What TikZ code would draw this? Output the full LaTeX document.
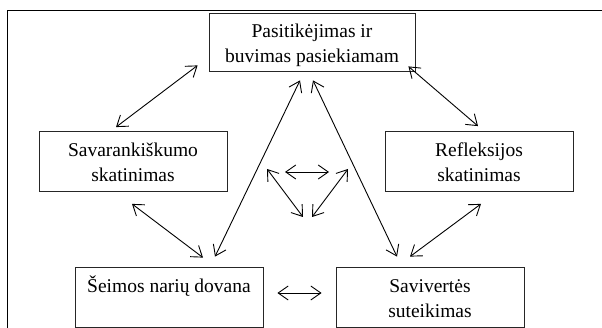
\documentclass[tikz,border=0pt]{standalone}
\usepackage{fontspec}
\setmainfont{Liberation Serif}
\usetikzlibrary{arrows.meta}

\newcommand\tstrut{\rule[-4pt]{0pt}{24pt}}

\tikzset{
  box/.style={draw=black!85, line width=0.8pt, minimum width=188pt, minimum height=60pt,
    inner sep=0pt, align=center, font=\fontsize{19.5}{25}\selectfont},
  link/.style={{Straight Barb[length=10pt,width=14pt]}-{Straight Barb[length=10pt,width=14pt]},
    line width=0.9pt},
}

\begin{document}
\begin{tikzpicture}[x=1pt,y=-1pt]
\useasboundingbox (0,0) rectangle (602,328);

\def\ytop{42}; % top row
\def\ymid{161.5}; % middle row
\def\ybot{297}; % bottom row

% frame
\draw[line width=1pt] (7,328) -- (7,11) -- (602,11);

\node[box, minimum width=206pt, minimum height=58pt] (trust) at (312, \ytop) {\tstrut Pasitikėjimas ir\\\tstrut buvimas pasiekiamam};
\node[box] (indep) at (133, \ymid) {\tstrut Savarankiškumo\\\tstrut skatinimas};
\node[box] (refl) at (479, \ymid) {\tstrut Refleksijos\\\tstrut skatinimas};
\node[box] (family) at (169, \ybot) {\tstrut Šeimos narių dovana\\\tstrut};
\node[box] (worth) at (430, \ybot) {\tstrut Savivertės\\\tstrut suteikimas};

\draw[link] ([xshift=-11pt,yshift=6pt]trust.south west) -- ([xshift=-17pt,yshift=4pt]indep.north);
\draw[link] ([xshift=-7pt,yshift=5pt]trust.south east) -- ([xshift=-1pt,yshift=5pt]refl.north);
\draw[link] ([xshift=-12pt,yshift=-9pt]trust.south) -- ([xshift=46pt,yshift=10pt]family.north);
\draw[link] ([xshift=1pt,yshift=-9pt]trust.south) -- ([xshift=-33pt,yshift=10pt]worth.north);
\draw[link] ([xshift=-1pt,yshift=-12pt]indep.south) -- ([xshift=34pt,yshift=9pt]family.north);
\draw[link] ([xshift=2pt,yshift=-12pt]refl.south) -- ([xshift=-20pt,yshift=10pt]worth.north);
\draw[link] ([xshift=14pt,yshift=4pt]family.east) -- ([xshift=-14pt,yshift=4pt]worth.west);

% middle triangle
\coordinate (ml) at (285,172);
\coordinate (mr) at (329,172);
\coordinate (tl) at (267,169);
\coordinate (bl) at (303,217);
\coordinate (tr) at (348,169);
\coordinate (br) at (312,217);

\draw[link] (ml) -- (mr);
\draw[link] (tl) -- (bl);
\draw[link] (tr) -- (br);

\end{tikzpicture}
\end{document}
